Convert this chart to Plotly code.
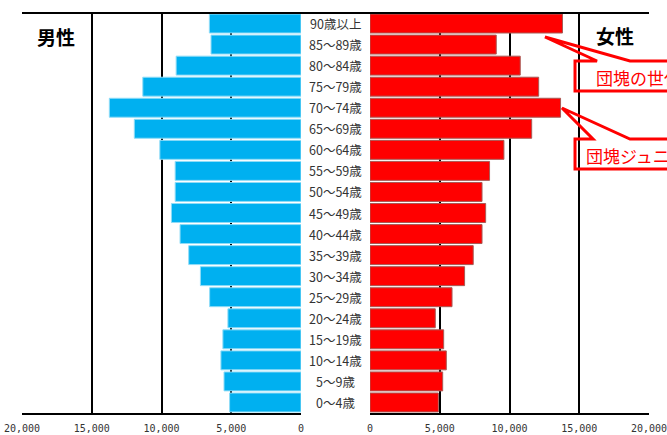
import plotly.graph_objects as go

ages = ["0～4歳", "5～9歳", "10～14歳", "15～19歳", "20～24歳", "25～29歳", "30～34歳",
        "35～39歳", "40～44歳", "45～49歳", "50～54歳", "55～59歳", "60～64歳", "65～69歳",
        "70～74歳", "75～79歳", "80～84歳", "85～89歳", "90歳以上"]
male = [5120, 5520, 5740, 5600, 5240, 6550, 7210, 8050, 8670, 9290, 9020, 9020,
        10120, 11950, 13740, 11340, 8950, 6450, 6570]
female = [4900, 5210, 5470, 5280, 4680, 5880, 6780, 7400, 8030, 8290, 8030, 8570,
          9600, 11590, 13660, 12090, 10770, 9050, 13800]
tick_vals = [0, 5000, 10000, 15000, 20000]
tick_text = ["0", "5,000", "10,000", "15,000", "20,000"]

W, H = 667, 435
ML, MR, MT, MB = 22, 18, 13, 22
PW, PH = W - ML - MR, H - MT - MB

def px(x):
    return (x - ML) / PW

def py(y):
    return 1 - (y - MT) / PH

fig = go.Figure()
fig.add_trace(go.Bar(y=ages, x=male, orientation="h", xaxis="x", yaxis="y",
                     marker=dict(color="#00B0F0", line=dict(color="#8fdcf7", width=1)),
                     showlegend=False))
fig.add_trace(go.Bar(y=ages, x=female, orientation="h", xaxis="x2", yaxis="y2",
                     marker=dict(color="#FF0000", line=dict(color="#a85a55", width=1)),
                     showlegend=False))

axis_common = dict(tickvals=tick_vals, ticktext=tick_text, showgrid=False, zeroline=False,
                   showline=True, linecolor="black", linewidth=2, ticks="", automargin=False,
                   ticklabeloverflow="allow", ticklabelstandoff=5,
                   tickfont=dict(family="DejaVu Sans Mono", size=10, color="#333333"),
                   minor=dict(tickvals=[5000, 10000, 15000, 20000], showgrid=True,
                              gridcolor="black", gridwidth=2, ticks=""))

fig.update_layout(
    width=W, height=H,
    margin=dict(l=ML, r=MR, t=MT, b=MB, autoexpand=False),
    paper_bgcolor="white", plot_bgcolor="white",
    bargap=0.1,
    xaxis=dict(domain=[0, px(301)], range=[20000, 0], anchor="y", **axis_common),
    xaxis2=dict(domain=[px(370), 1], range=[0, 20000], anchor="y2", **axis_common),
    yaxis=dict(anchor="x", showticklabels=False, showgrid=False, zeroline=False, automargin=False,
               range=[-0.5, 18.5], categoryorder="array", categoryarray=ages),
    yaxis2=dict(anchor="x2", showticklabels=False, showgrid=False, zeroline=False, automargin=False,
                range=[-0.5, 18.5], categoryorder="array", categoryarray=ages),
)

annotations = []
for a in ages:
    annotations.append(dict(x=0.5, xref="paper", y=a, yref="y", text=a, showarrow=False,
                            xanchor="center", yanchor="middle",
                            font=dict(family="Noto Sans CJK JP", size=12.5, color="#333333")))
annotations.append(dict(x=px(56), y=py(36), xref="paper", yref="paper", text="<b>男性</b>",
                        showarrow=False, xanchor="center", yanchor="middle",
                        font=dict(family="Noto Sans CJK JP", size=19, color="black")))
annotations.append(dict(x=px(615), y=py(35), xref="paper", yref="paper", text="<b>女性</b>",
                        showarrow=False, xanchor="center", yanchor="middle",
                        font=dict(family="Noto Sans CJK JP", size=19, color="black")))
annotations.append(dict(x=px(594), y=py(77), xref="paper", yref="paper", text="団塊の世代",
                        showarrow=False, xanchor="left", yanchor="middle",
                        font=dict(family="Noto Sans CJK JP", size=17, color="#FF0000")))
annotations.append(dict(x=px(584), y=py(155), xref="paper", yref="paper", text="団塊ジュニア",
                        showarrow=False, xanchor="left", yanchor="middle",
                        font=dict(family="Noto Sans CJK JP", size=17, color="#FF0000")))
fig.update_layout(annotations=annotations)

def callout(left, top, bottom, b1, b2, tipx, tipy, right=720):
    pts = [(left, top), (b1, top), (tipx, tipy), (b2, top), (right, top), (right, bottom), (left, bottom)]
    d = "M " + " L ".join(f"{px(x):.4f},{py(y):.4f}" for x, y in pts) + " Z"
    return dict(type="path", xref="paper", yref="paper", path=d,
                line=dict(color="#FF0000", width=3), fillcolor="rgba(0,0,0,0)")

shapes = [
    dict(type="line", xref="paper", yref="paper", x0=0, x1=1, y0=1, y1=1,
         line=dict(color="black", width=2)),
    callout(575, 61, 91, 597, 630, 545, 37),
    callout(575, 139, 169, 593, 630, 562, 108),
]
fig.update_layout(shapes=shapes)

fig.write_html("out.html", config={"displayModeBar": False},
               post_script="document.body.style.margin='0';document.body.style.overflow='hidden';")
